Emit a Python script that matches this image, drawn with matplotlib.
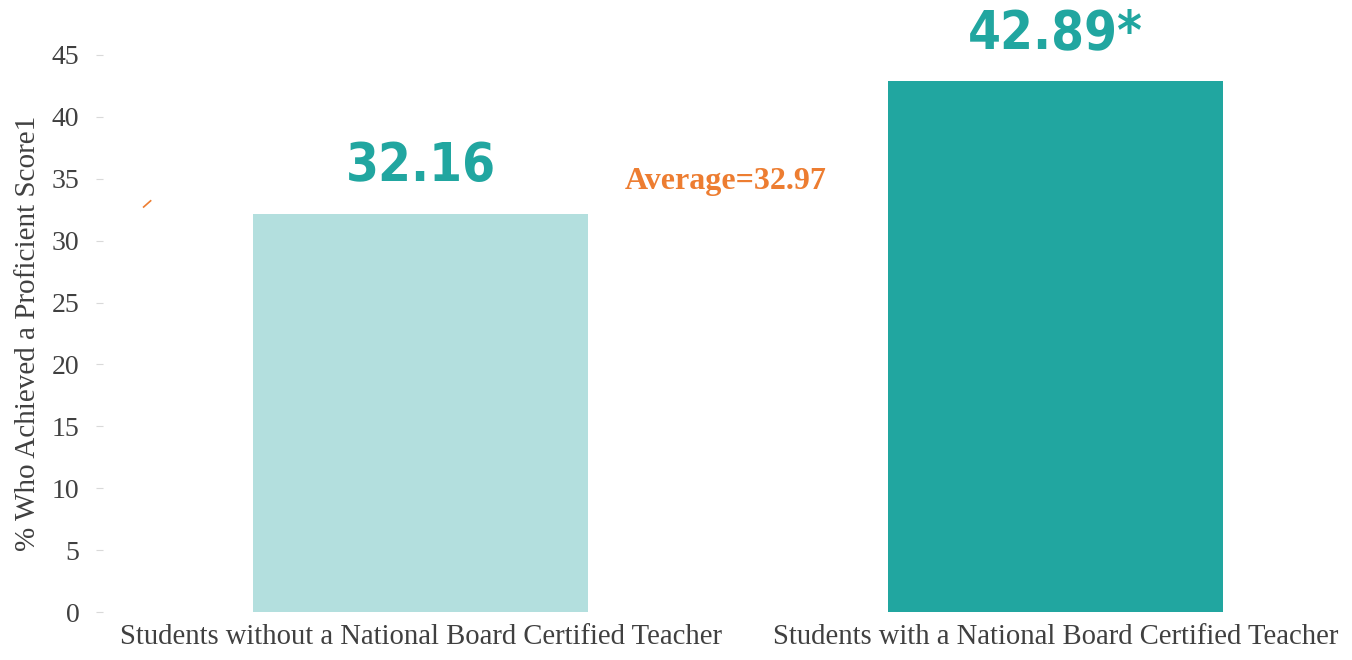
import matplotlib
matplotlib.use("Agg")
import matplotlib.pyplot as plt
from matplotlib import font_manager as fm

categories = ["Students without a National Board Certified Teacher",
              "Students with a National Board Certified Teacher"]
values = [32.16, 42.89]
value_labels = ["32.16", "42.89*"]
average = 32.97
average_label = "Average=32.97"
yticks = [0, 5, 10, 15, 20, 25, 30, 35, 40, 45]
ylabel = "% Who Achieved a Proficient Score1"

bar_colors = ["#B3DFDE", "#21A6A0"]
teal = "#21A6A0"
orange = "#ED7D31"
grey = "#404040"

# pick the most condensed bold sans font that is installed
def condensed_font():
    order = {"ultra-condensed": 0, "extra-condensed": 1, "condensed": 2,
             "semi-condensed": 3}
    best = None
    for f in fm.fontManager.ttflist:
        name = f.name.lower()
        st = f.stretch if isinstance(f.stretch, str) else ""
        rank = order.get(st)
        if rank is None:
            if "condensed" in name or "narrow" in name:
                rank = 2
            else:
                continue
        if "serif" in name and "sans" not in name:
            continue
        w = f.weight if isinstance(f.weight, int) else (700 if "bold" in str(f.weight) else 400)
        score = (rank, abs(w - 700))
        if best is None or score < best[0]:
            best = (score, f.fname)
    if best:
        return fm.FontProperties(fname=best[1])
    return fm.FontProperties(family="Roboto", weight="bold")

cond_fp = condensed_font()

fig = plt.figure(figsize=(13.52, 6.6), dpi=100)
W, H = 1352, 660
left, right, bottom, top = 103, 1373, 612, 55
ax = fig.add_axes([left / W, 1 - bottom / H, (right - left) / W, (bottom - top) / H])

x = list(range(len(categories)))
ax.bar(x, values, width=0.528, color=bar_colors)
ax.set_xlim(-0.5, 1.5)
ax.set_ylim(0, 45)

serif = ["Liberation Serif", "DejaVu Serif"]

ax.set_yticks(yticks)
ax.set_yticklabels([str(t) for t in yticks], fontfamily=serif, fontsize=20, color=grey)
ax.set_xticks(x)
ax.set_xticklabels(categories, fontfamily=serif, fontsize=20.6, color=grey)
ax.tick_params(axis="y", length=5, color="#D9D9D9", pad=12)
ax.tick_params(axis="x", length=0, pad=9)
ax.set_ylabel(ylabel, fontfamily=serif, fontsize=21, color=grey, labelpad=8)
for s in ax.spines.values():
    s.set_visible(False)

fp = cond_fp.copy()
fp.set_size(38)
fp.set_weight("bold")
for xi, v, lab in zip(x, values, value_labels):
    ax.text(xi, v + 1.8, lab, ha="center", va="bottom", fontproperties=fp,
            color=teal, clip_on=False)

# short stub of the average line
ax.plot([-0.436, -0.425], [average - 0.25, average + 0.25], color=orange, lw=1.2)
ax.text(0.48, average + 1.8, average_label, ha="center", va="center",
        fontfamily=serif, fontweight="bold", fontsize=23, color=orange)

fig.savefig("out.png", dpi=100)
